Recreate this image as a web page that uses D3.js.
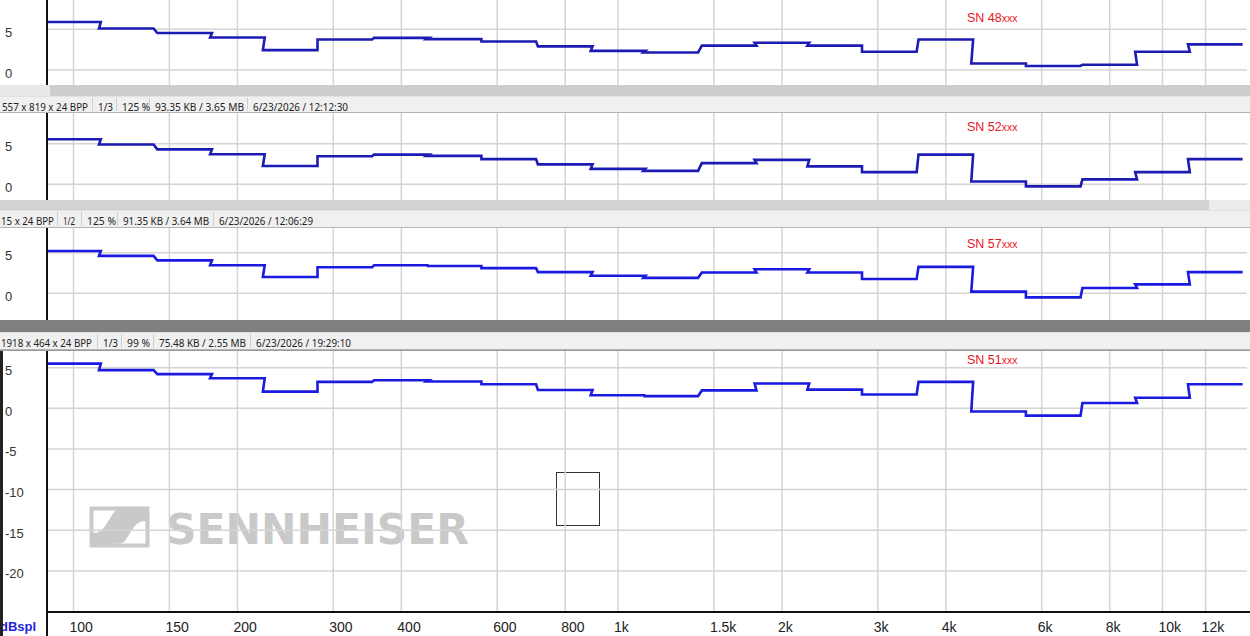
<!DOCTYPE html>
<html>
<head>
<meta charset="utf-8">
<script src="https://cdn.jsdelivr.net/npm/d3@7"></script>
<style>
  body { margin: 0; background: #fff; overflow: hidden; }
  svg { display: block; }
</style>
</head>
<body>
<div id="wrapper"></div>
<script>
// 1/3 octave band centres (Hz) and per-unit level (dB)
const bandCenters = [100, 125, 160, 200, 250, 315, 400, 500, 630, 800, 1000,
                     1250, 1600, 2000, 2500, 3150, 4000, 5000, 6300, 8000, 10000, 12500]
const sn48 = [5.9, 5.1, 4.55, 4.0, 2.45, 3.75, 3.95, 3.8, 3.5, 2.9, 2.35,
              2.15, 3.0, 3.35, 3.0, 2.25, 3.75, 0.8, 0.5, 0.65, 2.25, 3.15]
const sn52 = [5.55, 4.9, 4.3, 3.7, 2.25, 3.45, 3.65, 3.5, 3.1, 2.45, 1.9,
              1.65, 2.6, 3.0, 2.2, 1.5, 3.65, 0.35, -0.25, 0.6, 1.5, 3.1]
const sn57 = [5.2, 4.6, 4.05, 3.45, 2.0, 3.2, 3.45, 3.35, 3.1, 2.6, 2.15,
              1.9, 2.55, 2.95, 2.55, 1.75, 3.25, 0.2, -0.5, 0.65, 1.1, 2.6]
const sn51 = [5.5, 4.7, 4.2, 3.7, 2.05, 3.25, 3.45, 3.3, 2.95, 2.25, 1.6,
              1.5, 2.2, 3.05, 2.3, 1.7, 3.25, -0.4, -0.9, 0.65, 1.3, 2.95]
const serialNames = ["SN 48", "SN 52", "SN 57", "SN 51"]

const xTicks = [100, 150, 200, 300, 400, 600, 800, 1000, 1500, 2000, 3000, 4000, 6000, 8000, 10000, 12000]
const xTickLabels = ["100", "150", "200", "300", "400", "600", "800", "1k", "1.5k", "2k", "3k", "4k", "6k", "8k", "10k", "12k"]
const yTicks = [10, 5, 0, -5, -10, -15, -20]

const statusTexts = [
  ["557 x 819 x 24 BPP", "1/3", "125 %", "93.35 KB / 3.65 MB", "6/23/2026 / 12:12:30"],
  ["15 x 24 BPP", "1/2", "125 %", "91.35 KB / 3.64 MB", "6/23/2026 / 12:06:29"],
  ["1918 x 464 x 24 BPP", "1/3", "99 %", "75.48 KB / 2.55 MB", "6/23/2026 / 19:29:10"]
]

// layout of the stacked viewer windows
const W = 1250, H = 636
const axisX = 47, plotRight = 1247
const pxPerDb = 8.13
const panels = [
  { values: sn48, top: 0,   bottom: 85,  zero: 70,    labelY: 21.5, color: "#1c1cb4" },
  { values: sn52, top: 113, bottom: 200, zero: 184.3, labelY: 130.5, color: "#1c1cb4" },
  { values: sn57, top: 228, bottom: 320, zero: 293.3, labelY: 248, color: "#1a1ae0" },
  { values: sn51, top: 351, bottom: 612, zero: 408.3, labelY: 363.5, color: "#1a1ae0" }
]
const statusBars = [
  { top: 96, bottom: 113, textY: 111, xs: [2, 98, 122, 155, 253], ws: [86, 15, 28, 89, 95] },
  { top: 210, bottom: 228, textY: 224.5, xs: [1, 63, 87, 123, 219], ws: [53, 12, 29, 86, 94] },
  { top: 332, bottom: 350, textY: 346.5, xs: [1, 103, 127, 159, 256], ws: [91, 15, 23, 87, 95] }
]

const svg = d3.select("#wrapper").append("svg")
  .attr("width", W).attr("height", H)
  .style("font-family", "'Liberation Sans', Arial, sans-serif")

const xScale = d3.scaleLog().domain([100, 1000]).range([73.5, 618])

// chrome between the windows
svg.append("rect").attr("x", 0).attr("y", 85).attr("width", W).attr("height", 11).attr("fill", "#cdcdcd")
svg.append("rect").attr("x", 0).attr("y", 85).attr("width", 50).attr("height", 11).attr("fill", "#e9e9e9")
svg.append("rect").attr("x", 0).attr("y", 200).attr("width", W).attr("height", 10).attr("fill", "#ececec")
svg.append("rect").attr("x", 0).attr("y", 200).attr("width", 1209).attr("height", 10).attr("fill", "#d2d2d2")
svg.append("rect").attr("x", 0).attr("y", 320).attr("width", W).attr("height", 12).attr("fill", "#7f7f7f")

statusBars.forEach((sb, i) => {
  const g = svg.append("g")
  g.append("rect").attr("x", 0).attr("y", sb.top).attr("width", W)
    .attr("height", sb.bottom - sb.top).attr("fill", "#f0f0f0")
  g.append("line").attr("x1", 0).attr("x2", W).attr("y1", sb.top + 0.5).attr("y2", sb.top + 0.5)
    .attr("stroke", "#e2e2e2")
  g.append("line").attr("x1", 0).attr("x2", W).attr("y1", sb.bottom - 0.5).attr("y2", sb.bottom - 0.5)
    .attr("stroke", "#b4b4b4")
  g.selectAll("line.sep")
    .data(sb.xs.slice(1))
    .join("line").attr("class", "sep")
      .attr("x1", d => d - 5.5).attr("x2", d => d - 5.5)
      .attr("y1", sb.top + 2).attr("y2", sb.bottom - 2)
      .attr("stroke", "#cfcfcf")
  g.selectAll("text")
    .data(statusTexts[i])
    .join("text")
      .attr("x", (d, j) => sb.xs[j])
      .attr("y", sb.textY)
      .attr("textLength", (d, j) => sb.ws[j])
      .attr("lengthAdjust", "spacingAndGlyphs")
      .attr("font-family", "'Noto Sans', 'Open Sans', sans-serif")
      .attr("font-size", 11.5)
      .attr("fill", "#222")
      .text(d => d)
})

// watermark + marker box in the last window
const logo = svg.append("g").attr("fill", "#c9c9c9")
logo.append("rect").attr("x", 91.5).attr("y", 508.5).attr("width", 56).attr("height", 37)
  .attr("fill", "none").attr("stroke", "#c9c9c9").attr("stroke-width", 4)
logo.append("path")
  .attr("d", "M93,544 L93,533 C101,533 104,528 109,520 L114,512 C117,509 120,510 146,510 L146,521 C138,521 135,525 130,533 L125,541 C122,544 119,544 93,544 Z")
logo.append("text").attr("x", 166).attr("y", 543.5)
  .attr("font-family", "'DejaVu Sans', sans-serif").attr("font-weight", "bold")
  .attr("font-size", 43).attr("textLength", 303).attr("lengthAdjust", "spacingAndGlyphs")
  .text("SENNHEISER")

svg.append("rect").attr("x", 556.5).attr("y", 472.5).attr("width", 43).attr("height", 53)
  .attr("fill", "none").attr("stroke", "#333").attr("stroke-width", 1)

// 5. Draw each window's chart
panels.forEach((p, i) => {
  const clipId = "clip" + i
  svg.append("clipPath").attr("id", clipId)
    .append("rect").attr("x", 0).attr("y", p.top).attr("width", W).attr("height", p.bottom - p.top)

  const yScale = d3.scaleLinear().domain([0, 5]).range([p.zero, p.zero - 5 * pxPerDb])
  const g = svg.append("g").attr("clip-path", `url(#${clipId})`)
  const visibleTicks = yTicks.filter(d => yScale(d) > p.top + 4 && yScale(d) + 8 < p.bottom)

  // grid
  g.selectAll("line.vgrid")
    .data(xTicks)
    .join("line").attr("class", "vgrid")
      .attr("x1", d => xScale(d)).attr("x2", d => xScale(d))
      .attr("y1", p.top).attr("y2", p.bottom)
      .attr("stroke", "#d4d4d4").attr("stroke-width", 1.5)
  g.selectAll("line.hgrid")
    .data(visibleTicks)
    .join("line").attr("class", "hgrid")
      .attr("x1", axisX).attr("x2", plotRight)
      .attr("y1", d => yScale(d)).attr("y2", d => yScale(d))
      .attr("stroke", "#d4d4d4").attr("stroke-width", 1.5)

  g.selectAll("text.ylab")
    .data(visibleTicks)
    .join("text").attr("class", "ylab")
      .attr("x", 5)
      .attr("y", d => yScale(d) + 7.5)
      .attr("font-size", 13)
      .attr("fill", "#333")
      .text(d => d)

  // step trace across the 1/3 octave bands
  const pts = []
  bandCenters.forEach((f, k) => {
    const lo = Math.max(xScale(f / Math.pow(2, 1 / 6)), axisX)
    const hi = xScale(f * Math.pow(2, 1 / 6))
    pts.push([lo, yScale(p.values[k])], [hi, yScale(p.values[k])])
  })
  g.append("path")
    .attr("d", d3.line()(pts))
    .attr("fill", "none")
    .attr("stroke", p.color)
    .attr("stroke-width", 2.6)
    .attr("stroke-linejoin", "miter")

  g.append("line")
    .attr("x1", axisX).attr("x2", axisX)
    .attr("y1", p.top).attr("y2", p.bottom)
    .attr("stroke", "#111").attr("stroke-width", 2)

  const lab = svg.append("text")
    .attr("x", 967).attr("y", p.labelY)
    .attr("font-size", 12.5).attr("fill", "#e8161e")
    .text(serialNames[i])
  lab.append("tspan").attr("font-size", 10.5).text("xxx")
})

// 6. Peripherals of the bottom window: x axis, unit, borders
svg.append("line").attr("x1", 0).attr("x2", W).attr("y1", 350.5).attr("y2", 350.5).attr("stroke", "#9a9a9a")
svg.append("line").attr("x1", axisX).attr("x2", W).attr("y1", 612).attr("y2", 612)
  .attr("stroke", "#111").attr("stroke-width", 2)
svg.append("line").attr("x1", axisX).attr("x2", axisX).attr("y1", 612).attr("y2", H)
  .attr("stroke", "#111").attr("stroke-width", 2)

svg.append("g").selectAll("text")
  .data(xTicks)
  .join("text")
    .attr("x", d => xScale(d) - 4)
    .attr("y", 632)
    .attr("font-size", 14)
    .attr("fill", "#222")
    .text((d, i) => xTickLabels[i])

svg.append("text").attr("x", 0).attr("y", 631)
  .attr("font-size", 13).attr("font-weight", "bold").attr("fill", "#2323d8")
  .text("dBspl")

svg.append("rect").attr("x", 0).attr("y", 351).attr("width", 3).attr("height", H - 351).attr("fill", "#222")
</script>
</body>
</html>
